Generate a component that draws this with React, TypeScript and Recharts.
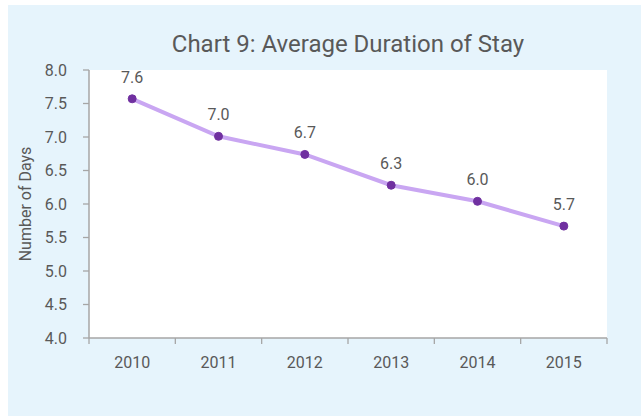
import React from "react";
import { LineChart, Line, XAxis, YAxis, CartesianGrid, LabelList } from "recharts";

const years = ["2010", "2011", "2012", "2013", "2014", "2015"];
const avgStay = [7.57, 7.01, 6.74, 6.28, 6.04, 5.67];
const labels = ["7.6", "7.0", "6.7", "6.3", "6.0", "5.7"];
const yTicks = [4.0, 4.5, 5.0, 5.5, 6.0, 6.5, 7.0, 7.5, 8.0];
const title = "Chart 9: Average Duration of Stay";
const yTitle = "Number of Days";

const data = years.map((y, i) => ({ pos: i + 0.5, year: y, value: avgStay[i], label: labels[i] }));
const xTicks: number[] = [];
for (let i = 0; i <= years.length; i++) {
  xTicks.push(i);
  if (i < years.length) xTicks.push(i + 0.5);
}

const FONT = "Roboto, 'Noto Sans', sans-serif";
const TEXT = "#595959";
const AXIS = "#A6A6A6";

const XTick = (props: any) => {
  const { x, y, payload } = props;
  const v = payload.value as number;
  if (Number.isInteger(v)) {
    return <line x1={x} x2={x} y1={y} y2={y + 6} stroke={AXIS} strokeWidth={1.3} />;
  }
  const idx = Math.floor(v);
  return (
    <text x={x} y={y + 30} textAnchor="middle" fill={TEXT} fontSize={16} fontFamily={FONT}>
      {years[idx]}
    </text>
  );
};

export default function App() {
  return (
    <div style={{ position: "absolute", left: 8, top: 5, width: 633, height: 411, background: "#E6F4FC", fontFamily: FONT }}>
      <LineChart width={633} height={411} data={data} margin={{ top: 65, right: 34, bottom: 0, left: 0 }}>
        <text x={340} y={47} textAnchor="middle" fill={TEXT} fontSize={24} fontFamily={FONT}>
          {title}
        </text>
        <CartesianGrid fill="#FFFFFF" stroke="none" horizontal={false} vertical={false} />
        <XAxis
          dataKey="pos"
          type="number"
          domain={[0, years.length]}
          ticks={xTicks}
          interval={0}
          tickSize={0}
          tickMargin={0}
          tickLine={false}
          tick={<XTick />}
          axisLine={{ stroke: AXIS, strokeWidth: 1.5 }}
          height={78}
        />
        <YAxis
          type="number"
          domain={[4, 8]}
          ticks={yTicks}
          interval={0}
          width={81}
          tickSize={6}
          tickMargin={16}
          tickFormatter={(v: number) => v.toFixed(1)}
          tick={{ fill: TEXT, fontSize: 16, fontFamily: FONT }}
          tickLine={{ stroke: AXIS, strokeWidth: 1.3 }}
          axisLine={{ stroke: AXIS, strokeWidth: 1.5 }}
          label={{
            value: yTitle,
            angle: -90,
            position: "insideLeft",
            offset: 17,
            style: { textAnchor: "middle", fill: TEXT, fontSize: 16, fontFamily: FONT },
          }}
        />
        <Line
          type="linear"
          dataKey="value"
          stroke="#C9A6F2"
          strokeWidth={4}
          dot={{ r: 4, fill: "#7030A0", stroke: "#7030A0", strokeWidth: 1 }}
          activeDot={false}
          isAnimationActive={false}
        >
          <LabelList dataKey="label" position="top" offset={16} fill={TEXT} fontSize={16} fontFamily={FONT} />
        </Line>
      </LineChart>
    </div>
  );
}
